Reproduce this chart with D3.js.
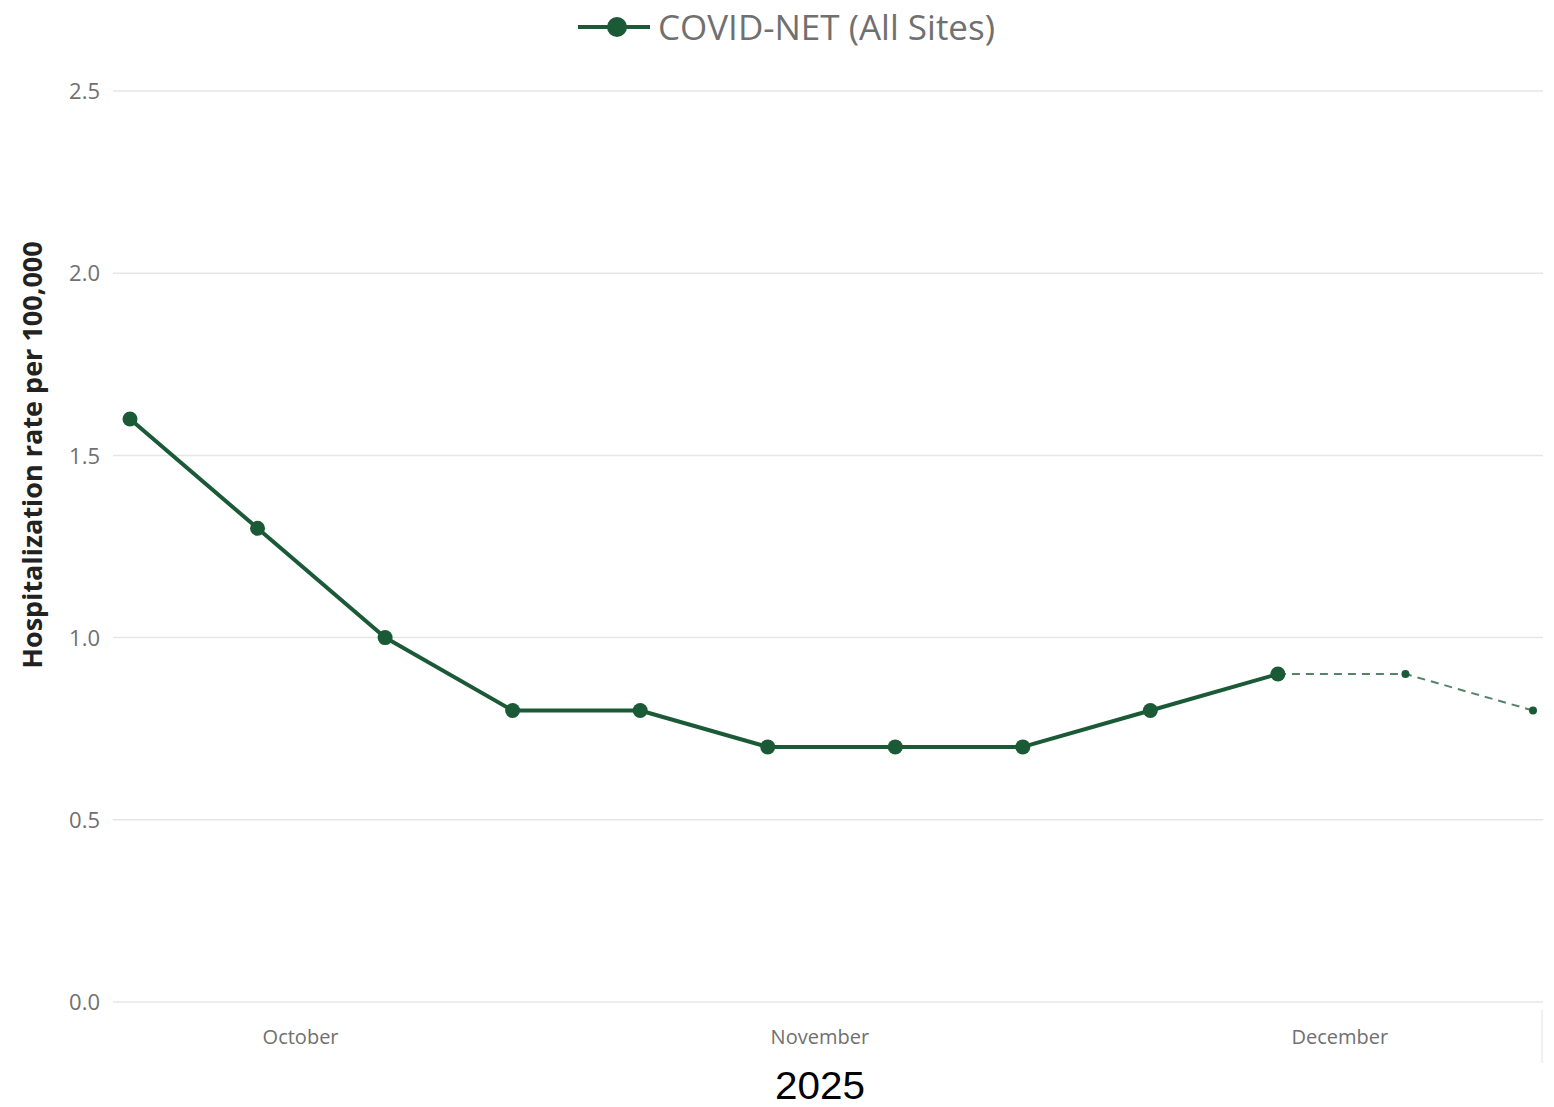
<!DOCTYPE html>
<html><head><meta charset="utf-8">
<script src="https://cdn.jsdelivr.net/npm/d3@7"></script>
<style>body{margin:0;background:#fff}svg{display:block}</style>
</head><body>
<svg id="chart" width="1554" height="1107"></svg>
<script>
const weekDates = ["2025-10-04","2025-10-11","2025-10-18","2025-10-25","2025-11-01","2025-11-08","2025-11-15","2025-11-22","2025-11-29","2025-12-06","2025-12-13","2025-12-20"];
const rates = [1.6,1.3,1.0,0.8,0.8,0.7,0.7,0.7,0.8,0.9,0.9,0.8];
const isPreliminary = [false,false,false,false,false,false,false,false,false,false,true,true];
const yTicks = [0,0.5,1.0,1.5,2.0,2.5];
const monthLabelDates = ["2025-10-13T08:00","2025-11-10T20:00","2025-12-09T09:00"];
const seriesName = "COVID-NET (All Sites)";
const yTitle = "Hospitalization rate per 100,000";
const xTitle = "2025";

const parse = d3.utcParse("%Y-%m-%d");
const parseT = d3.utcParse("%Y-%m-%dT%H:%M");
const data = weekDates.map((d,i)=>({date:parse(d), v:rates[i], prelim:isPreliminary[i]}));
const color = "#1b5a36";
const font = "'Open Sans','Noto Sans',sans-serif";

const svg = d3.select("#chart");
const x = d3.scaleUtc().domain([data[0].date, data[data.length-1].date]).range([130,1533]);
const y = d3.scaleLinear().domain([0,2.5]).range([1002,91]);
const gridL = 113, gridR = 1543;

// gridlines + y labels
const yAxis = d3.axisLeft(y).tickValues(yTicks).tickFormat(d3.format(".1f")).tickSize(0).tickPadding(0);
const gy = svg.append("g").attr("transform",`translate(100,0)`).call(yAxis);
gy.select(".domain").remove();
gy.selectAll("text").attr("font-family",font).attr("font-size",22).attr("fill","#707070").attr("dy","0.35em");
svg.append("g").selectAll("line").data(yTicks).join("line")
  .attr("x1",gridL).attr("x2",gridR).attr("y1",d=>y(d)).attr("y2",d=>y(d))
  .attr("stroke","#e6e6e6").attr("stroke-width",1.5);

// x axis month labels
const xAxis = d3.axisBottom(x).tickValues(monthLabelDates.map(parseT)).tickFormat(d3.utcFormat("%B")).tickSize(0).tickPadding(0);
const gx = svg.append("g").attr("transform","translate(0,1037)").call(xAxis);
gx.select(".domain").remove();
gx.selectAll("text").attr("font-family",font).attr("font-size",20).attr("fill","#707070").attr("dy","0.35em");

// faint right edge line
svg.append("line").attr("x1",1542).attr("x2",1542).attr("y1",1010).attr("y2",1063).attr("stroke","#f0f0f0").attr("stroke-width",2);

// solid line
const solid = data.filter(d=>!d.prelim);
const dashed = data.slice(solid.length-1);
const line = d3.line().x(d=>x(d.date)).y(d=>y(d.v));
svg.append("path").datum(solid).attr("d",line).attr("fill","none").attr("stroke",color).attr("stroke-width",4).attr("stroke-linejoin","round");
svg.append("path").datum(dashed).attr("d",line).attr("fill","none").attr("stroke",color).attr("stroke-opacity",0.75).attr("stroke-width",2).attr("stroke-dasharray","8,6");
svg.append("g").selectAll("circle").data(data).join("circle")
  .attr("cx",d=>x(d.date)).attr("cy",d=>y(d.v)).attr("r",d=>d.prelim?4:7.5).attr("fill",color);

// legend
const lg = svg.append("g");
lg.append("line").attr("x1",578).attr("x2",650).attr("y1",27).attr("y2",27).attr("stroke",color).attr("stroke-width",4);
lg.append("circle").attr("cx",617).attr("cy",27).attr("r",10).attr("fill",color);
lg.append("text").attr("x",658).attr("y",28).attr("dy","0.35em").attr("font-family",font).attr("font-size",34).attr("fill","#707070")
  .attr("textLength",337).attr("lengthAdjust","spacingAndGlyphs").text(seriesName);

// axis titles
svg.append("text").attr("transform","translate(33,455) rotate(-90)").attr("text-anchor","middle").attr("dy","0.35em")
  .attr("font-family",font).attr("font-size",27).attr("font-weight","bold").attr("fill","#222").text(yTitle);
svg.append("text").attr("x",820).attr("y",1099).attr("text-anchor","middle")
  .attr("font-family","'Liberation Sans',Arial,sans-serif").attr("font-size",38).attr("fill","#000")
  .attr("textLength",90).attr("lengthAdjust","spacingAndGlyphs").text(xTitle);
</script>
</body></html>
